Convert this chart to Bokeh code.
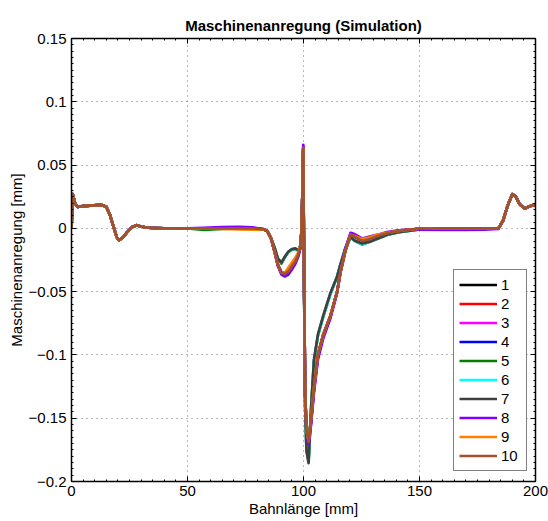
import numpy as np
from bokeh.plotting import figure
from bokeh.models import (Range1d, LinearAxis, FixedTicker, CustomJSTickFormatter,
                          Legend, LegendItem)
from bokeh.embed import file_html
from bokeh.resources import INLINE

# ---------------- data ----------------
bahnlaenge = [0, 0.5, 1.5, 2.5, 5, 8, 13, 15, 16.5, 18,
              19.5, 20.5, 22, 24, 26, 28, 30, 33, 40, 50,
              57, 65, 72, 78, 83, 84.5, 86, 87.5, 89, 90.5,
              92, 93.5, 95, 96.5, 97.8, 98.6, 99.1, 99.5, 99.9, 100.3,
              100.7, 101.3, 102.2, 103.2, 104.5, 106.2, 108.5, 111.6, 114.5, 116,
              118, 120.3, 122, 125.3, 128.5, 132, 136, 141, 146, 150,
              160, 170, 178, 184, 186, 188, 190, 191.5, 193, 195.3,
              197, 199, 200]

s1 = [0.0, 0.027, 0.020, 0.017, 0.0175, 0.018, 0.0185, 0.017, 0.011, 0.002,
      -0.007, -0.0093, -0.0075, -0.003, 0.0008, 0.0025, 0.0015, 0.0005, 0.0, 0.0,
      0.0, 0.0, 0.0, 0.0, -0.0008, -0.0025, -0.008, -0.018, -0.029, -0.0345,
      -0.0355, -0.034, -0.030, -0.026, -0.0205, -0.015, -0.004, 0.025, 0.0632, -0.05,
      -0.13, -0.16, -0.1675, -0.152, -0.126, -0.100, -0.084, -0.069, -0.050, -0.034,
      -0.018, -0.005, -0.0065, -0.010, -0.0085, -0.006, -0.004, -0.002, -0.001, -0.0003,
      0.0, 0.0, 0.0, 0.0, 0.006, 0.018, 0.027, 0.025, 0.0195, 0.0155,
      0.017, 0.0185, 0.018]
s2 = [0.0, 0.027, 0.020, 0.017, 0.0175, 0.018, 0.0185, 0.017, 0.011, 0.002,
      -0.007, -0.0093, -0.0075, -0.003, 0.0008, 0.0025, 0.0015, 0.0005, 0.0, 0.0,
      0.0, 0.0, 0.0, 0.0, -0.0008, -0.0025, -0.008, -0.018, -0.029, -0.0352,
      -0.0362, -0.0342, -0.030, -0.026, -0.0205, -0.015, -0.004, 0.025, 0.0635, -0.05,
      -0.13, -0.16, -0.169, -0.152, -0.126, -0.100, -0.084, -0.069, -0.050, -0.034,
      -0.018, -0.0048, -0.0063, -0.0098, -0.0085, -0.006, -0.004, -0.002, -0.001, -0.0003,
      0.0, 0.0, 0.0, 0.0, 0.006, 0.018, 0.027, 0.025, 0.0195, 0.0155,
      0.017, 0.0185, 0.018]
s3 = [0.0, 0.027, 0.020, 0.017, 0.0175, 0.018, 0.0185, 0.017, 0.011, 0.002,
      -0.007, -0.0093, -0.0075, -0.003, 0.0008, 0.0025, 0.0015, 0.0005, 0.0, 0.0,
      0.0, 0.0005, 0.0005, 0.0, -0.0008, -0.0025, -0.008, -0.018, -0.0295, -0.0358,
      -0.037, -0.0352, -0.031, -0.027, -0.021, -0.015, -0.004, 0.025, 0.064, -0.05,
      -0.13, -0.16, -0.170, -0.154, -0.128, -0.102, -0.085, -0.070, -0.050, -0.033,
      -0.017, -0.004, -0.0055, -0.009, -0.0075, -0.0055, -0.0035, -0.002, -0.001, -0.0003,
      0.0, 0.0, 0.0, 0.0, 0.006, 0.018, 0.027, 0.025, 0.0195, 0.0155,
      0.017, 0.0185, 0.018]
s4 = [0.0, 0.027, 0.020, 0.017, 0.0175, 0.018, 0.0185, 0.017, 0.011, 0.002,
      -0.007, -0.0093, -0.0075, -0.003, 0.0008, 0.0025, 0.0015, 0.0005, 0.0, 0.0,
      0.0, 0.0, 0.0, 0.0, -0.0008, -0.0025, -0.008, -0.018, -0.029, -0.0355,
      -0.0365, -0.0345, -0.0305, -0.0265, -0.0208, -0.015, -0.004, 0.025, 0.0645, -0.05,
      -0.13, -0.16, -0.1695, -0.154, -0.127, -0.101, -0.085, -0.070, -0.050, -0.034,
      -0.018, -0.0048, -0.006, -0.0095, -0.008, -0.006, -0.004, -0.002, -0.001, -0.0003,
      0.0, 0.0, 0.0, 0.0, 0.006, 0.018, 0.027, 0.025, 0.0195, 0.0155,
      0.017, 0.0185, 0.018]
s5 = [0.0, 0.027, 0.020, 0.017, 0.0175, 0.018, 0.0185, 0.017, 0.011, 0.002,
      -0.007, -0.0093, -0.0075, -0.003, 0.0008, 0.0025, 0.0015, 0.0005, 0.0, 0.0,
      -0.0012, -0.0005, 0.0, 0.0, -0.0008, -0.0025, -0.0075, -0.015, -0.0245, -0.0278,
      -0.0228, -0.0188, -0.0168, -0.0162, -0.0178, -0.014, -0.003, 0.025, 0.063, -0.055,
      -0.14, -0.175, -0.184, -0.145, -0.105, -0.085, -0.070, -0.052, -0.038, -0.028,
      -0.016, -0.0072, -0.0098, -0.0128, -0.0108, -0.0082, -0.0052, -0.003, -0.0018, -0.0008,
      0.0, 0.0, 0.0, 0.0, 0.006, 0.018, 0.027, 0.025, 0.0195, 0.0155,
      0.017, 0.0185, 0.018]
s6 = [0.0, 0.027, 0.020, 0.017, 0.0175, 0.018, 0.0185, 0.017, 0.011, 0.002,
      -0.007, -0.0093, -0.0075, -0.003, 0.0008, 0.0025, 0.0015, 0.0005, 0.0, 0.0,
      0.0, 0.0, 0.0, 0.0, -0.0008, -0.0025, -0.0075, -0.015, -0.024, -0.027,
      -0.0225, -0.0185, -0.0165, -0.016, -0.0175, -0.014, -0.003, 0.025, 0.063, -0.055,
      -0.14, -0.175, -0.183, -0.145, -0.105, -0.085, -0.070, -0.052, -0.038, -0.028,
      -0.016, -0.007, -0.0095, -0.0125, -0.0105, -0.008, -0.005, -0.003, -0.0018, -0.0008,
      0.0, 0.0, 0.0, 0.0, 0.006, 0.018, 0.027, 0.025, 0.0195, 0.0155,
      0.017, 0.0185, 0.018]
s7 = [0.0, 0.027, 0.020, 0.017, 0.0175, 0.018, 0.0185, 0.017, 0.011, 0.002,
      -0.007, -0.0093, -0.0075, -0.003, 0.0008, 0.0025, 0.0015, 0.0005, 0.0, 0.0,
      0.0, 0.0, 0.0, 0.0, -0.0008, -0.0025, -0.0075, -0.015, -0.024, -0.027,
      -0.0222, -0.0183, -0.0163, -0.0158, -0.0175, -0.014, -0.003, 0.025, 0.0628, -0.055,
      -0.14, -0.176, -0.1855, -0.144, -0.104, -0.084, -0.069, -0.051, -0.038, -0.028,
      -0.016, -0.007, -0.0095, -0.012, -0.0105, -0.008, -0.005, -0.003, -0.0018, -0.0008,
      0.0, 0.0, 0.0, 0.0, 0.006, 0.018, 0.027, 0.025, 0.0195, 0.0155,
      0.017, 0.0185, 0.018]
s8 = [0.0, 0.027, 0.020, 0.017, 0.0175, 0.018, 0.0185, 0.017, 0.011, 0.002,
      -0.007, -0.0093, -0.0075, -0.003, 0.0008, 0.0025, 0.0015, 0.0005, 0.0, 0.0,
      0.0005, 0.001, 0.0012, 0.0008, -0.0008, -0.0025, -0.008, -0.018, -0.030, -0.0365,
      -0.038, -0.0365, -0.0325, -0.028, -0.022, -0.016, -0.004, 0.025, 0.066, -0.05,
      -0.13, -0.162, -0.171, -0.156, -0.130, -0.104, -0.087, -0.071, -0.051, -0.033,
      -0.016, -0.0035, -0.0045, -0.008, -0.0065, -0.005, -0.003, -0.0015, -0.001, -0.001,
      -0.0012, -0.0012, -0.001, -0.0005, 0.006, 0.018, 0.027, 0.025, 0.0195, 0.0155,
      0.017, 0.0185, 0.018]
s9 = [0.0, 0.027, 0.020, 0.017, 0.0175, 0.018, 0.0185, 0.017, 0.011, 0.002,
      -0.007, -0.0093, -0.0075, -0.003, 0.0008, 0.0025, 0.0015, 0.0005, 0.0, 0.0,
      0.0, -0.0005, -0.0008, -0.001, -0.0008, -0.0025, -0.008, -0.018, -0.029, -0.035,
      -0.035, -0.031, -0.027, -0.023, -0.019, -0.014, -0.004, 0.025, 0.0635, -0.05,
      -0.13, -0.16, -0.168, -0.152, -0.126, -0.100, -0.084, -0.069, -0.050, -0.034,
      -0.018, -0.005, -0.006, -0.0085, -0.007, -0.005, -0.0035, -0.002, -0.001, -0.0003,
      0.0, 0.0, 0.0, 0.0, 0.006, 0.018, 0.027, 0.025, 0.0195, 0.0155,
      0.017, 0.0185, 0.018]
s10 = [0.0, 0.027, 0.020, 0.017, 0.0175, 0.018, 0.0185, 0.017, 0.011, 0.002,
       -0.007, -0.0093, -0.0075, -0.003, 0.0008, 0.0025, 0.0015, 0.0005, 0.0, 0.0,
       0.0, 0.0, 0.0, 0.0, -0.0008, -0.0025, -0.008, -0.018, -0.029, -0.035,
       -0.036, -0.034, -0.030, -0.026, -0.0205, -0.015, -0.004, 0.025, 0.0635, -0.05,
       -0.13, -0.16, -0.1685, -0.152, -0.126, -0.100, -0.084, -0.069, -0.050, -0.034,
       -0.018, -0.005, -0.0065, -0.010, -0.0085, -0.006, -0.004, -0.002, -0.001, -0.0003,
       0.0, 0.0, 0.0, 0.0, 0.006, 0.018, 0.027, 0.025, 0.0195, 0.0155,
       0.017, 0.0185, 0.018]

series = [s1, s2, s3, s4, s5, s6, s7, s8, s9, s10]
labels = ["1", "2", "3", "4", "5", "6", "7", "8", "9", "10"]
colors = ["#000000", "#ff0000", "#ff00ff", "#0000ff", "#008000",
          "#00ffff", "#404040", "#8000ff", "#ff8000", "#a0522d"]

x_ticks = [0, 50, 100, 150, 200]
y_ticks = [-0.2, -0.15, -0.1, -0.05, 0, 0.05, 0.1, 0.15]

FONT = "Liberation Sans"

# ---------------- figure ----------------
p = figure(width=548, height=521, output_backend="svg", toolbar_location=None,
           x_range=Range1d(0, 200), y_range=Range1d(-0.2, 0.15),
           min_border_left=71, min_border_right=13, min_border_top=38,
           min_border_bottom=40, title="Maschinenanregung (Simulation)")
p.title.text_font = FONT
p.title.text_font_size = "15px"
p.title.text_font_style = "bold"
p.title.align = "center"
p.title.text_color = "black"
p.outline_line_color = "black"
p.outline_line_width = 1
p.background_fill_color = "white"
p.border_fill_color = "white"

x_minor = [float(v) for v in np.arange(0, 200.1, 5)]
y_minor = [round(-0.2 + 0.005 * i, 4) for i in range(71)]
xt = FixedTicker(ticks=x_ticks, minor_ticks=x_minor)
yt = FixedTicker(ticks=y_ticks, minor_ticks=y_minor)
yfmt = CustomJSTickFormatter(code="""
var s = (Math.round(tick*1000)/1000).toString();
return s.replace('-', '\u2212');
""")
blank_fmt = CustomJSTickFormatter(code="return '';")

def style_axis(ax, show_labels):
    ax.axis_line_color = "black"
    ax.axis_line_width = 1.5
    ax.major_tick_in = 5
    ax.major_tick_out = 0
    ax.minor_tick_in = 2
    ax.minor_tick_out = 0
    ax.major_tick_line_color = "black"
    ax.minor_tick_line_color = "black"
    ax.major_label_text_font = FONT
    ax.major_label_text_color = "black"
    ax.major_label_text_font_size = "15px"
    ax.axis_label_text_font = FONT
    ax.axis_label_text_font_style = "normal"
    ax.axis_label_text_color = "black"
    ax.axis_label_text_font_size = "15px"
    if not show_labels:
        ax.formatter = blank_fmt
        ax.major_label_standoff = 0

xa = p.xaxis[0]
xa.ticker = xt
xa.axis_label = "Bahnlänge [mm]"
style_axis(xa, True)
xa.major_label_standoff = 4
xa.axis_label_standoff = 1

ya = p.yaxis[0]
ya.ticker = yt
ya.formatter = yfmt
ya.axis_label = "Maschinenanregung [mm]"
style_axis(ya, True)
ya.major_label_standoff = 5
ya.axis_label_standoff = 1

top_ax = LinearAxis(ticker=xt)
style_axis(top_ax, False)
p.add_layout(top_ax, "above")
right_ax = LinearAxis(ticker=yt)
style_axis(right_ax, False)
p.add_layout(right_ax, "right")

p.xgrid.ticker = xt
p.ygrid.ticker = yt
for g in (p.xgrid[0], p.ygrid[0]):
    g.grid_line_color = "#707070"
    g.grid_line_dash = "1 4"
    g.grid_line_width = 1

items = []
for lab, col, ys in zip(labels, colors, series):
    r = p.line(bahnlaenge, ys, line_color=col, line_width=2.7, line_join="round")
    items.append(LegendItem(label=lab, renderers=[r]))

legend = Legend(items=items, location=(382, 10))
legend.border_line_color = "black"
legend.border_line_width = 1
legend.background_fill_color = "white"
legend.background_fill_alpha = 1
legend.label_text_font = FONT
legend.label_text_font_size = "15px"
legend.label_text_color = "black"
legend.glyph_width = 38
legend.glyph_height = 19
legend.label_height = 19
legend.label_width = 20
legend.label_standoff = 4
legend.padding = 5
legend.spacing = 0
legend.margin = 0
p.add_layout(legend)

open("out.html", "w").write(file_html(p, INLINE))
